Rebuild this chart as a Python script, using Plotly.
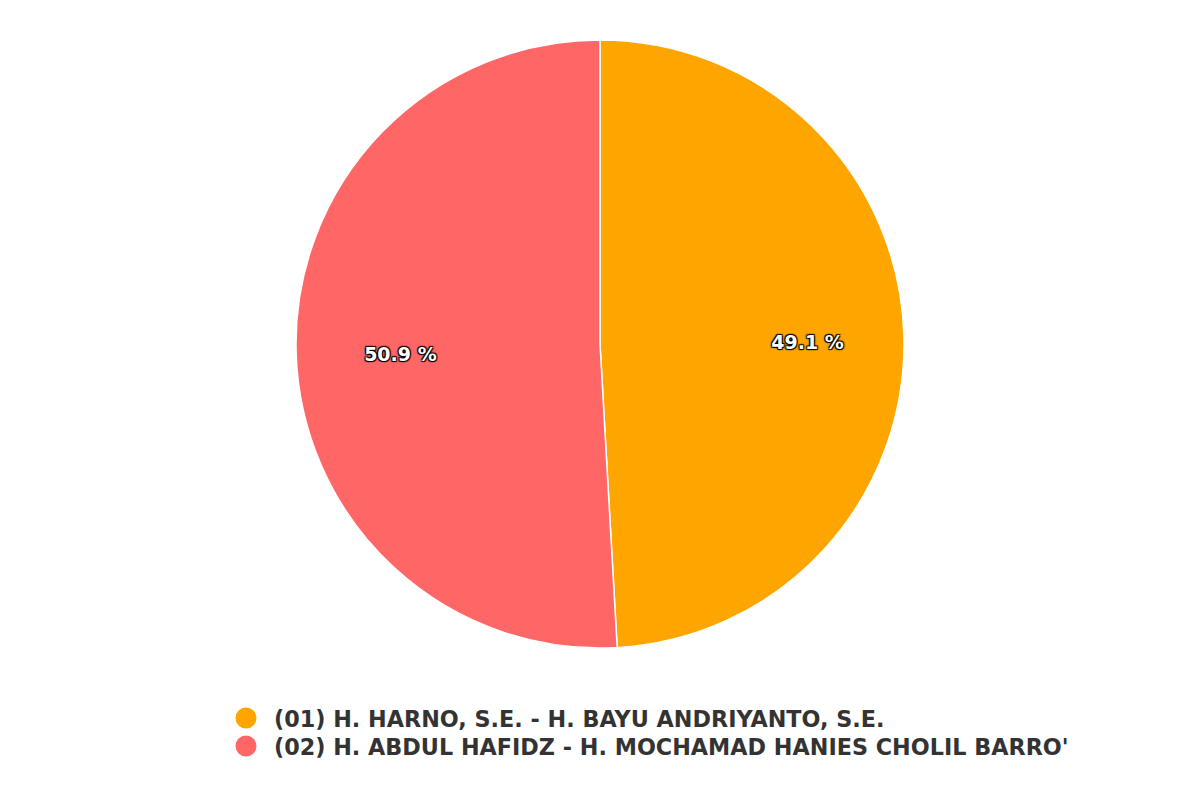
import plotly.graph_objects as go

labels = ["(01) H. HARNO, S.E. - H. BAYU ANDRIYANTO, S.E.",
          "(02) H. ABDUL HAFIDZ - H. MOCHAMAD HANIES CHOLIL BARRO'"]
values = [49.1, 50.9]
colors = ["#FFA500", "#FF6666"]

total = sum(values)
texts = [f"{v / total * 100:.1f} %" for v in values]

dom = dict(x=[(297 - 9) / 1200, (903 - 7) / 1200], y=[1 - 647 / 800 + 7 / 800, 1 - 41 / 800 + 9 / 800])
label_dom = dict(x=[dom["x"][0] + 4 / 1200, dom["x"][1] + 4 / 1200],
                 y=[dom["y"][0] - 4 / 800, dom["y"][1] - 4 / 800])

fig = go.Figure()
# slices
fig.add_trace(go.Pie(
    labels=labels, values=values, textinfo="none",
    sort=False, direction="clockwise", rotation=0,
    marker=dict(colors=colors, line=dict(color="white", width=1.5)),
    domain=dom, showlegend=False, hoverinfo="skip",
))
# percentage labels (ring layer so labels sit further out)
fig.add_trace(go.Pie(
    labels=labels, values=values, text=texts, textinfo="text",
    sort=False, direction="clockwise", rotation=0, hole=0.34,
    marker=dict(colors=["rgba(0,0,0,0)"] * 2, line=dict(width=0)),
    textposition="inside", insidetextorientation="horizontal",
    textfont=dict(family="DejaVu Sans", size=19, color="white", weight="bold",
                  shadow="1px 1px 1px #000, -1px -1px 1px #000, 1px -1px 1px #000, -1px 1px 1px #000"),
    domain=label_dom, showlegend=False, hoverinfo="skip",
))
legend_ids = ["legend", "legend2"]
for lab, col, lg in zip(labels, colors, legend_ids):
    fig.add_trace(go.Scatter(x=[None], y=[None], mode="markers", name=lab,
                             marker=dict(color=col, size=22, symbol="circle",
                                         line=dict(color=col, width=8)),
                             showlegend=True, legend=lg))

legend_style = dict(x=210 / 1200, xanchor="left", yanchor="top",
                    font=dict(family="DejaVu Sans", size=22.3, color="#333333", weight="bold"),
                    itemwidth=46, bgcolor="rgba(0,0,0,0)")

fig.update_layout(
    width=1200, height=800, margin=dict(l=0, r=0, t=0, b=0),
    paper_bgcolor="white", plot_bgcolor="white",
    xaxis=dict(visible=False), yaxis=dict(visible=False),
    legend=dict(y=1 - 689 / 800, **legend_style),
    legend2=dict(y=1 - 717 / 800, **legend_style),
)
fig.write_html("out.html")
